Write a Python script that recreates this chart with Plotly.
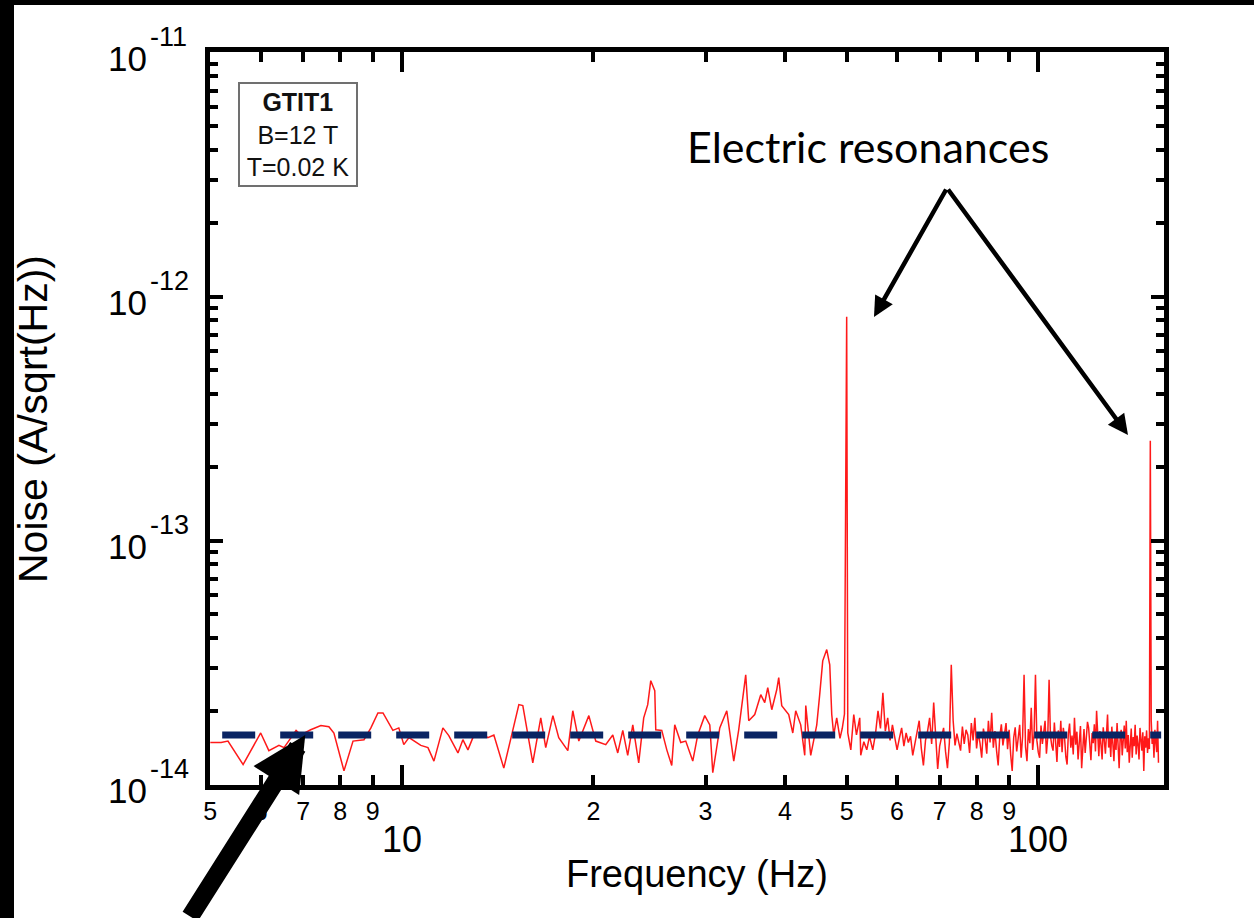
import math
import plotly.graph_objects as go

FONT = "Liberation Sans, Arial, Helvetica, sans-serif"
UNIT = 1e-14  # noise values below are in units of 1e-14 A/sqrt(Hz)

# ---- measured current-noise spectrum, low-frequency part (5-55 Hz) ----
freq_low = [
    5.00, 5.20, 5.33, 5.63, 6.00, 6.18, 6.41, 6.53, 6.82, 6.94,
    7.19, 7.46, 7.68, 7.82, 8.11, 8.38, 8.72, 8.94, 9.17, 9.34,
    9.68, 9.89, 10.07, 10.26, 10.71, 10.99, 11.23, 11.60, 11.85, 12.25,
    12.47, 12.70, 12.93, 13.31, 13.65, 13.95, 14.46, 14.83, 15.27, 15.49,
    16.06, 16.53, 16.83, 17.27, 17.64, 18.23, 18.56, 18.97, 19.67, 20.17,
    20.91, 21.45, 21.84, 22.24, 22.64, 23.06, 23.56, 23.99, 24.34, 24.61,
    24.97, 25.06, 25.61, 26.08, 26.55, 26.84, 27.43, 27.93, 28.65, 29.17,
    29.92, 30.47, 30.80, 31.59, 32.40, 33.23, 33.83, 34.70, 35.08, 35.85,
    36.64, 37.17, 37.58, 38.13, 38.82, 39.10, 39.53, 40.54, 41.14, 41.58,
    42.34, 42.96, 43.12, 43.90, 44.87, 45.35, 45.85, 46.52, 47.03, 47.37,
    47.71, 48.23, 48.80, 49.20, 49.60, 50.00, 50.20, 50.75, 51.30, 51.80,
    52.42, 52.61, 53.20, 53.77, 54.30, 54.95,
]
noise_low = [
    1.49, 1.49, 1.51, 1.21, 1.63, 1.38, 1.45, 1.42, 1.67, 1.60,
    1.68, 1.75, 1.73, 1.63, 1.14, 1.51, 1.53, 1.71, 1.97, 1.97,
    1.67, 1.71, 1.46, 1.56, 1.45, 1.42, 1.25, 1.71, 1.59, 1.35,
    1.53, 1.39, 1.56, 1.63, 1.56, 1.60, 1.17, 1.56, 2.13, 2.11,
    1.23, 1.88, 1.42, 1.92, 1.56, 1.38, 2.01, 1.51, 1.92, 1.51,
    1.46, 1.60, 1.35, 1.67, 1.32, 1.76, 1.23, 1.88, 2.13, 2.67,
    2.43, 1.68, 1.67, 1.39, 1.20, 1.76, 1.49, 1.51, 1.25, 1.60,
    1.92, 1.76, 1.12, 1.71, 2.01, 1.25, 1.68, 2.82, 1.83, 1.94,
    2.34, 2.17, 2.50, 2.03, 2.45, 2.75, 2.11, 1.94, 1.63, 2.01,
    1.76, 1.32, 2.11, 1.32, 1.76, 2.34, 3.22, 3.58, 3.10, 1.94,
    1.60, 1.88, 1.55, 1.70, 1.95, 82.8, 1.63, 1.39, 1.94, 1.60,
    1.88, 1.32, 1.50, 1.39, 1.58, 1.39,
]

# ---- high-frequency part (55.5-154.5 Hz, 0.5 Hz bins) ----
freq_high = [
    55.5, 56.0, 56.5, 57.0, 57.5, 58.0, 58.5, 59.0, 59.5, 60.0,
    60.5, 61.0, 61.5, 62.0, 62.5, 63.0, 63.5, 64.0, 64.5, 65.0,
    65.5, 66.0, 66.5, 67.0, 67.5, 68.0, 68.5, 69.0, 69.5, 70.0,
    70.5, 71.0, 71.5, 72.0, 72.5, 73.0, 73.5, 74.0, 74.5, 75.0,
    75.5, 76.0, 76.5, 77.0, 77.5, 78.0, 78.5, 79.0, 79.5, 80.0,
    80.5, 81.0, 81.5, 82.0, 82.5, 83.0, 83.5, 84.0, 84.5, 85.0,
    85.5, 86.0, 86.5, 87.0, 87.5, 88.0, 88.5, 89.0, 89.5, 90.0,
    90.5, 91.0, 91.5, 92.0, 92.5, 93.0, 93.5, 94.0, 94.5, 95.0,
    95.5, 96.0, 96.5, 97.0, 97.5, 98.0, 98.5, 99.0, 99.5, 100.0,
    100.5, 101.0, 101.5, 102.0, 102.5, 103.0, 103.5, 104.0, 104.5, 105.0,
    105.5, 106.0, 106.5, 107.0, 107.5, 108.0, 108.5, 109.0, 109.5, 110.0,
    110.5, 111.0, 111.5, 112.0, 112.5, 113.0, 113.5, 114.0, 114.5, 115.0,
    115.5, 116.0, 116.5, 117.0, 117.5, 118.0, 118.5, 119.0, 119.5, 120.0,
    120.5, 121.0, 121.5, 122.0, 122.5, 123.0, 123.5, 124.0, 124.5, 125.0,
    125.5, 126.0, 126.5, 127.0, 127.5, 128.0, 128.5, 129.0, 129.5, 130.0,
    130.5, 131.0, 131.5, 132.0, 132.5, 133.0, 133.5, 134.0, 134.5, 135.0,
    135.5, 136.0, 136.5, 137.0, 137.5, 138.0, 138.5, 139.0, 139.5, 140.0,
    140.5, 141.0, 141.5, 142.0, 142.5, 143.0, 143.5, 144.0, 144.5, 145.0,
    145.5, 146.0, 146.5, 147.0, 147.5, 148.0, 148.5, 149.0, 149.5, 150.0,
    150.5, 151.0, 151.5, 152.0, 152.5, 153.0, 153.5, 154.0, 154.5,
]
noise_high = [
    1.62, 2.01, 1.70, 2.38, 1.66, 1.88, 1.52, 1.76, 1.58, 1.39,
    1.55, 1.71, 1.44, 1.63, 1.49, 1.58, 1.32, 1.47, 1.64, 1.83,
    1.41, 1.20, 1.52, 1.66, 1.88, 1.47, 2.17, 1.52, 1.16, 1.44,
    1.58, 1.71, 1.37, 1.17, 1.49, 3.10, 1.83, 1.45, 1.62, 1.50,
    1.38, 1.73, 1.47, 1.68, 1.60, 1.35, 1.79, 1.52, 1.88, 1.41,
    1.63, 1.48, 1.29, 1.70, 1.55, 1.34, 1.83, 1.49, 1.97, 1.42,
    1.66, 1.38, 1.20, 1.58, 1.77, 1.45, 1.62, 1.79, 1.40, 1.68,
    1.33, 1.14, 1.56, 1.72, 1.37, 1.60, 1.76, 1.29, 1.58, 2.82,
    1.43, 1.25, 1.69, 1.48, 2.07, 1.39, 1.61, 2.82, 1.52, 1.36,
    1.29, 1.75, 1.47, 1.64, 1.83, 1.34, 1.57, 2.69, 1.59, 1.45,
    1.38, 1.80, 1.51, 1.24, 1.67, 1.43, 1.83, 1.36, 1.71, 1.55,
    1.30, 1.21, 1.62, 1.78, 1.42, 1.59, 1.33, 1.88, 1.46, 1.65,
    1.27, 1.53, 1.74, 1.17, 1.49, 1.69, 1.35, 1.57, 1.81, 1.71,
    1.40, 1.26, 1.63, 1.48, 1.77, 1.37, 2.01, 1.54, 1.31, 1.66,
    1.45, 1.27, 1.72, 1.50, 1.34, 1.61, 1.94, 1.42, 1.58, 1.30,
    1.73, 1.47, 1.25, 1.62, 1.39, 1.79, 1.51, 1.17, 1.56, 1.68,
    1.32, 1.49, 1.75, 1.41, 1.83, 1.36, 1.60, 1.23, 1.52, 1.70,
    1.29, 1.57, 1.44, 1.76, 1.33, 1.59, 1.46, 1.27, 1.71, 1.50,
    1.38, 1.64, 1.14, 1.58, 1.42, 1.67, 1.35, 1.55, 1.40, 25.7,
    1.83, 1.47, 1.62, 1.29, 1.68, 1.51, 1.36, 1.83, 1.23,
]

# white-noise floor drawn as a dashed guide
floor_freq = [5.22, 156.0]
floor_level = 1.6e-14
floor_pointer_freq = 7.05

# axis tick labels
x_label_vals = [5, 6, 7, 8, 9, 20, 30, 40, 50, 60, 70, 80, 90]
x_label_text = ["5", "6", "7", "8", "9", "2", "3", "4", "5", "6", "7", "8", "9"]
x_decades = [10, 100]
x_decade_text = ["10", "100"]
y_decades = [1e-14, 1e-13, 1e-12, 1e-11]
y_exponent_text = ["-14", "-13", "-12", "-11"]
y_minor = [m * d for d in (1e-14, 1e-13, 1e-12) for m in range(2, 10)]

freq = freq_low + freq_high
noise = [v * UNIT for v in noise_low + noise_high]

fig = go.Figure()
fig.add_trace(go.Scatter(
    x=freq, y=noise, mode="lines",
    line=dict(color="rgba(255,0,0,0.9)", width=1.5),
    showlegend=False, hoverinfo="skip",
))
fig.add_trace(go.Scatter(
    x=floor_freq, y=[floor_level, floor_level], mode="lines",
    line=dict(color="#0a2463", width=7, dash="33px,25px"),
    showlegend=False, hoverinfo="skip",
))

W, H = 1254, 918
L, R, T, B = 210, 90, 52, 133
plot_w = W - L - R
plot_h = H - T - B


def px_x(px):
    return (px - L) / plot_w


def px_y(py):
    return (H - B - py) / plot_h


fig.update_xaxes(
    type="log", range=[0.6985, 2.1976],
    tickmode="array", tickvals=x_label_vals, ticktext=x_label_text,
    ticks="inside", ticklen=10, tickwidth=3.5, tickcolor="black",
    minor=dict(tickmode="array", tickvals=x_decades, ticks="inside",
               ticklen=20, tickwidth=3.5, tickcolor="black", showgrid=False),
    showline=True, linewidth=5, linecolor="black", mirror="ticks",
    showgrid=False, zeroline=False,
    tickfont=dict(family=FONT, size=25, color="black"),
)
fig.update_yaxes(
    type="log", range=[-14.001, -10.997],
    tickmode="array", tickvals=y_decades, showticklabels=False,
    ticks="inside", ticklen=13, tickwidth=3.5, tickcolor="black",
    minor=dict(tickmode="array", tickvals=y_minor, ticks="inside",
               ticklen=8, tickwidth=3.5, tickcolor="black", showgrid=False),
    showline=True, linewidth=5, linecolor="black", mirror="ticks",
    showgrid=False, zeroline=False,
)

annotations = []
# decade labels of the noise axis: "10" with a raised exponent
for d, e in zip(y_decades, y_exponent_text):
    annotations.append(dict(
        x=px_x(127), xref="paper", y=math.log10(d), yref="y", yshift=-6,
        text="10", showarrow=False, font=dict(family=FONT, size=35, color="black"),
        xanchor="center", yanchor="middle",
    ))
    annotations.append(dict(
        x=px_x(148), xref="paper", y=math.log10(d), yref="y", yshift=16,
        text=e, showarrow=False, font=dict(family=FONT, size=27, color="black"),
        xanchor="left", yanchor="middle",
    ))
# decade labels under the frequency axis
for v, t in zip(x_decades, x_decade_text):
    annotations.append(dict(
        x=math.log10(v), xref="x", y=px_y(839), yref="paper",
        text=t, showarrow=False, font=dict(family=FONT, size=36, color="black"),
        xanchor="center", yanchor="middle",
    ))
# axis titles
annotations.append(dict(
    x=px_x(697), y=px_y(874), xref="paper", yref="paper",
    text="Frequency (Hz)", showarrow=False,
    font=dict(family=FONT, size=38, color="black"),
    xanchor="center", yanchor="middle",
))
annotations.append(dict(
    x=px_x(33), y=px_y(419), xref="paper", yref="paper",
    text="Noise (A/sqrt(Hz))", showarrow=False, textangle=-90,
    font=dict(family=FONT, size=41, color="black"),
    xanchor="center", yanchor="middle",
))
# sample / conditions box
annotations.append(dict(
    x=px_x(298), y=px_y(134), xref="paper", yref="paper",
    text="<b>GTIT1</b><br>B=12 T<br>T=0.02 K", showarrow=False,
    font=dict(family=FONT, size=25, color="#111111"),
    bordercolor="#707070", borderwidth=2, borderpad=2, bgcolor="white",
    width=112, height=97, align="center", xanchor="center", yanchor="middle",
))
# resonance callout
annotations.append(dict(
    x=px_x(868), y=px_y(146), xref="paper", yref="paper",
    text="Electric resonances", showarrow=False,
    font=dict(family="Lato, Open Sans, sans-serif", size=43, color="black"),
    xanchor="center", yanchor="middle",
))
for hx, hy in [(874, 317), (1128, 435)]:
    annotations.append(dict(
        x=px_x(hx), y=px_y(hy), xref="paper", yref="paper", text="",
        showarrow=True, ax=947 - hx, ay=188 - hy,
        arrowcolor="black", arrowwidth=4.5, arrowhead=2, arrowsize=0.9,
        standoff=0,
    ))
# pointer to the noise floor
annotations.append(dict(
    x=math.log10(floor_pointer_freq), y=math.log10(floor_level),
    xref="x", yref="y", text="",
    showarrow=True, ax=-116, ay=188,
    arrowcolor="black", arrowwidth=18, arrowhead=2, arrowsize=0.6, standoff=0,
))

shapes = [
    dict(type="rect", xref="paper", yref="paper", x0=-0.4, x1=px_x(14),
         y0=-0.4, y1=1.4, fillcolor="black", line_width=0, layer="above"),
    dict(type="rect", xref="paper", yref="paper", x0=-0.4, x1=1.4,
         y0=px_y(5), y1=1.4, fillcolor="black", line_width=0, layer="above"),
]

fig.update_layout(
    width=W, height=H,
    margin=dict(l=L, r=R, t=T, b=B),
    paper_bgcolor="white", plot_bgcolor="white",
    showlegend=False,
    annotations=annotations, shapes=shapes,
)

fig.write_html("out.html")
